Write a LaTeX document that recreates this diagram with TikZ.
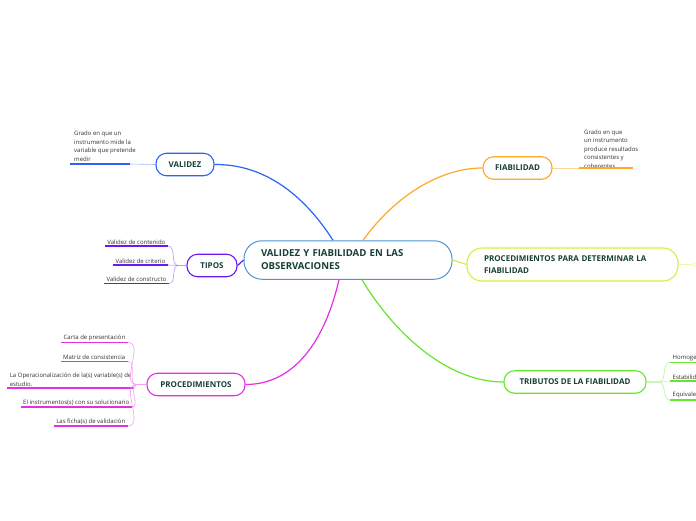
\documentclass[tikz,border=0pt]{standalone}
\usepackage{fontspec}
\setmainfont{Open Sans}
\definecolor{cblue}{HTML}{2D62F5}
\definecolor{corange}{HTML}{FFA726}
\definecolor{cpurple}{HTML}{6A1AF0}
\definecolor{cmag}{HTML}{E62EE6}
\definecolor{cyel}{HTML}{D6F03A}
\definecolor{cgreen}{HTML}{66E62A}
\definecolor{ccenter}{HTML}{4A94D8}
\definecolor{ttxt}{HTML}{173F35}
\definecolor{ltxt}{HTML}{333333}
\begin{document}
\begin{tikzpicture}[x=1pt,y=-1pt,
  topic/.style={draw=#1, line width=1.1pt, rounded corners=10.5pt, fill=white,
    font=\bfseries\fontsize{8}{9}\selectfont, text=ttxt, inner sep=0pt, minimum height=22.5pt},
  leaf/.style={font=\fontsize{6}{8.5}\selectfont, text=ltxt, inner xsep=2.5pt, inner ysep=1.6pt},
  uline/.style={draw=#1, line width=1.6pt},
  thinl/.style={draw=#1!45, line width=0.6pt},
  mainl/.style={draw=#1, line width=1.2pt}]
\useasboundingbox (0,0) rectangle (696,520);
\clip (0,0) rectangle (696,520);
\fill[white] (0,0) rectangle (696,520);

% center
\node[draw=ccenter, line width=1pt, rounded corners=18pt, fill=white, minimum width=208pt, minimum height=38.5pt,
  text width=174pt, align=left, font=\bfseries\fontsize{9.6}{13}\selectfont, text=ttxt, inner xsep=17pt, inner ysep=0pt]
  (center) at (348,260) {VALIDEZ Y FIABILIDAD EN LAS\\OBSERVACIONES};

% topics
\node[topic=cblue, minimum width=58pt] (validez) at (185,164.5) {VALIDEZ};
\node[topic=corange, minimum width=69pt] (fiab) at (517.5,168) {FIABILIDAD};
\node[topic=cpurple, minimum width=50pt] (tipos) at (212,265.5) {TIPOS};
\node[topic=cmag, minimum width=98pt] (proc) at (196,384.5) {PROCEDIMIENTOS};
\node[topic=cgreen, minimum width=142pt] (trib) at (575,382) {TRIBUTOS DE LA FIABILIDAD};
\node[draw=cyel, line width=1.1pt, rounded corners=15pt, fill=white, minimum width=211pt, minimum height=33pt,
  text width=177pt, align=left, font=\bfseries\fontsize{8}{11.5}\selectfont, text=ttxt, inner xsep=17pt, inner ysep=0pt]
  (pdf) at (572.5,264.5) {PROCEDIMIENTOS PARA DETERMINAR LA\\FIABILIDAD};

% main connectors
\draw[mainl=cblue] (center.north -| 333,0) .. controls (302,192) and (262,164) .. (validez.east);
\draw[mainl=corange] (center.north -| 363,0) .. controls (395,196) and (440,168) .. (fiab.west);
\draw[mainl=cpurple] (center.west) -- (tipos.east);
\draw[mainl=cmag] (center.south -| 339,0) .. controls (325,340) and (295,384.5) .. (proc.east);
\draw[mainl=cgreen] (center.south -| 362,0) .. controls (392,330) and (445,382) .. (trib.west);
\draw[mainl=cyel] (center.east) -- (pdf.west);

% VALIDEZ leaf
\node[leaf, align=left, anchor=south west, inner xsep=0pt] (lv) at (74,163) {Grado en que un\\instrumento mide la\\variable que pretende\\medir};
\coordinate (lvl) at (70,164);
\coordinate (lvr) at (130,164);
\draw[uline=cblue] (lvl) -- (lvr);
\draw[thinl=cblue] (lvr) -- (validez.west);

% FIABILIDAD leaf
\node[leaf, align=left, anchor=north west, inner xsep=0pt, inner ysep=0pt] (lf) at (584,129.5) {Grado en que\\un instrumento\\produce resultados\\consistentes y\\coherentes};
\coordinate (lfl) at (579,168);
\coordinate (lfr) at (633,168);
\draw[uline=corange] (lfl) -- (lfr);
\draw[thinl=corange] (fiab.east) -- (lfl);

% TIPOS leaves
\node[leaf, anchor=south east] (t1) at (168,246) {Validez de contenido};
\node[leaf, anchor=south east] (t2) at (168,265) {Validez de criterio};
\node[leaf, anchor=south east] (t3) at (169,283.5) {Validez de constructo};
\foreach \n in {t1,t2,t3}{
  \draw[uline=cpurple] (\n.south west) -- (\n.south east);
  \draw[thinl=cpurple] (tipos.west) -- ++(-8,0) to[out=180,in=0] (\n.south east);
}

% PROCEDIMIENTOS leaves
\node[leaf, anchor=south east] (p1) at (128,342.5) {Carta de presentación};
\node[leaf, anchor=south east] (p2) at (128,361.5) {Matriz de consistencia};
\node[leaf, anchor=south east, align=left] (p3) at (134,388) {La Operacionalización de la(s) variable(s) de\\estudio.};
\node[leaf, anchor=south east] (p4) at (132,407) {El instrumentos(s) con su solucionario};
\node[leaf, anchor=south east] (p5) at (128,426) {Las ficha(s) de validación};
\foreach \n in {p1,p2,p3,p4,p5}{
  \draw[uline=cmag] (\n.south west) -- (\n.south east);
  \draw[thinl=cmag] (proc.west) -- ++(-10,0) to[out=180,in=0] (\n.south east);
}

% TRIBUTOS leaves
\node[leaf, anchor=south west] (r1) at (670,362.5) {Homogeneidad};
\node[leaf, anchor=south west] (r2) at (670,381) {Estabilidad};
\node[leaf, anchor=south west] (r3) at (670,400) {Equivalencia};
\foreach \n in {r1,r2,r3}{
  \draw[uline=cgreen] (\n.south west) -- (\n.south east);
  \draw[thinl=cgreen] (trib.east) -- ++(12,0) to[out=0,in=180] (\n.south west);
}

% PROC. PARA DETERMINAR fan (leaves beyond the edge)
\coordinate (y1) at (712,244);
\coordinate (y2) at (712,284);
\draw[thinl=cyel] (pdf.east) -- ++(12,0) to[out=0,in=180] (y1);
\draw[thinl=cyel] (pdf.east) -- ++(12,0) to[out=0,in=180] (y2);
\end{tikzpicture}
\end{document}
